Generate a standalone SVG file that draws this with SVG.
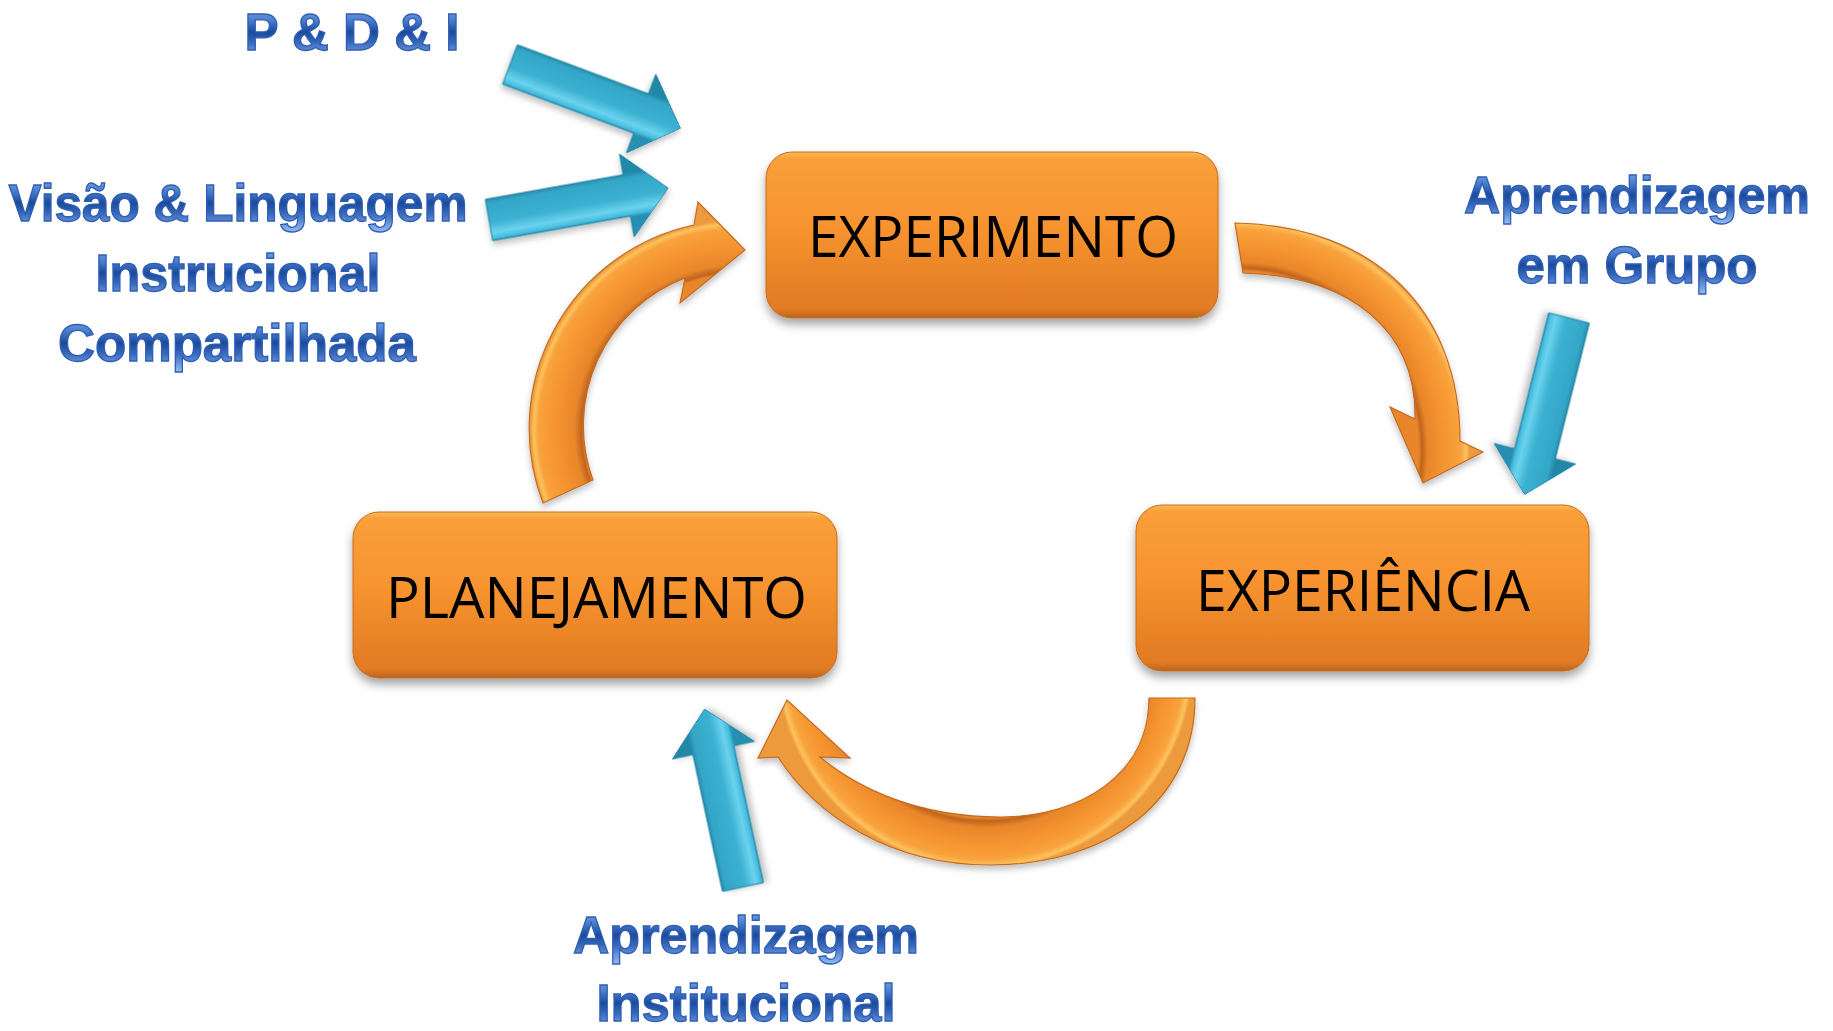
<svg xmlns="http://www.w3.org/2000/svg" width="1833" height="1031" viewBox="0 0 1833 1031">
  <defs>
    <style>
      .box { fill: url(#boxGrad); stroke: #C86A1E; stroke-width: 1; filter: url(#shadow); }
      .boxText { font-family: "Open Sans", "Liberation Sans", sans-serif; font-size: 56px; fill: #000; text-anchor: middle; }
      .lbl { font-family: "Liberation Sans", Arial, sans-serif; font-weight: bold; font-size: 52px; fill: url(#blueText); stroke: #2D5FB4; stroke-width: 1.3; text-anchor: middle; }
      .blue { fill: url(#blueGrad); stroke: #23829F; stroke-width: 1; filter: url(#shadowS); }
      .orange { stroke: #C46A20; stroke-width: 1.2; filter: url(#shadowS); }
    </style>
    <filter id="shadow" x="-10%" y="-10%" width="120%" height="135%">
      <feDropShadow dx="0" dy="6" stdDeviation="5" flood-color="#000" flood-opacity="0.35"/>
    </filter>
    <filter id="shadowS" x="-20%" y="-20%" width="140%" height="140%">
      <feDropShadow dx="0" dy="4" stdDeviation="3" flood-color="#000" flood-opacity="0.25"/>
    </filter>
    <linearGradient id="boxGrad" x1="0" y1="0" x2="0" y2="1">
      <stop offset="0" stop-color="#FCBC55"/>
      <stop offset="0.04" stop-color="#FA9F39"/>
      <stop offset="0.45" stop-color="#F7942F"/>
      <stop offset="0.95" stop-color="#E17A23"/>
      <stop offset="1" stop-color="#B8641E"/>
    </linearGradient>
    <linearGradient id="blueText" x1="0" y1="0" x2="0" y2="1">
      <stop offset="0" stop-color="#8DB3EE"/>
      <stop offset="0.3" stop-color="#4A7CCC"/>
      <stop offset="0.5" stop-color="#1B4A9C"/>
      <stop offset="0.68" stop-color="#3868BC"/>
      <stop offset="1" stop-color="#95BCF2"/>
    </linearGradient>
    <linearGradient id="blueGrad" gradientUnits="userSpaceOnUse" x1="0" y1="-22" x2="0" y2="22">
      <stop offset="0" stop-color="#2288A8"/>
      <stop offset="0.12" stop-color="#34A6C8"/>
      <stop offset="0.55" stop-color="#3BB1D2"/>
      <stop offset="0.8" stop-color="#6AD2EE"/>
      <stop offset="0.92" stop-color="#48BEDF"/>
      <stop offset="1" stop-color="#2590B2"/>
    </linearGradient>
    <radialGradient id="arc1" gradientUnits="userSpaceOnUse" cx="740" cy="430" r="212">
      <stop offset="0" stop-color="#E9852B"/>
      <stop offset="0.735" stop-color="#E9852B"/>
      <stop offset="0.748" stop-color="#BF651D"/>
      <stop offset="0.78" stop-color="#E8862B"/>
      <stop offset="0.87" stop-color="#F59430"/>
      <stop offset="0.95" stop-color="#F9A23C"/>
      <stop offset="0.972" stop-color="#FDC25E"/>
      <stop offset="0.99" stop-color="#EC9A3A"/>
      <stop offset="1" stop-color="#EC9A3A"/>
    </radialGradient>
    <radialGradient id="arc3" gradientUnits="userSpaceOnUse" cx="1240" cy="450" r="232">
      <stop offset="0" stop-color="#E9852B"/>
      <stop offset="0.77" stop-color="#E9852B"/>
      <stop offset="0.785" stop-color="#BF651D"/>
      <stop offset="0.81" stop-color="#E8862B"/>
      <stop offset="0.88" stop-color="#F59430"/>
      <stop offset="0.95" stop-color="#F9A23C"/>
      <stop offset="0.975" stop-color="#FDC25E"/>
      <stop offset="0.99" stop-color="#EC9A3A"/>
      <stop offset="1" stop-color="#EC9A3A"/>
    </radialGradient>
    <radialGradient id="arc5" gradientUnits="userSpaceOnUse" cx="985" cy="660" r="212">
      <stop offset="0" stop-color="#E9852B"/>
      <stop offset="0.745" stop-color="#E9852B"/>
      <stop offset="0.76" stop-color="#BF651D"/>
      <stop offset="0.79" stop-color="#E8862B"/>
      <stop offset="0.87" stop-color="#F59430"/>
      <stop offset="0.94" stop-color="#F9A23C"/>
      <stop offset="0.968" stop-color="#FDC25E"/>
      <stop offset="0.985" stop-color="#EC9A3A"/>
      <stop offset="1" stop-color="#EC9A3A"/>
    </radialGradient>
    <path id="straightArrow" d="M0,-21 L140,-21 L140,-42 L182,0 L140,42 L140,21 L0,21 Z"/>
  </defs>

  <rect width="1833" height="1031" fill="#FFFFFF"/>

  <g id="connectors">
    <path id="arrow-planejamento-experimento" class="orange" fill="url(#arc1)"
      d="M543,503 A208,208 0 0 1 694,225 L698,202 L745,250 L680,303 L685,278 A158,158 0 0 0 593,480 Z"/>
    <path id="arrow-experimento-experiencia" class="orange" fill="url(#arc3)"
      d="M1235,223 C1375,226 1460,310 1460,441 L1483,452 L1423,483 L1390,407 L1415,419 C1417,330 1350,276 1243,273 Z"/>
    <path id="arrow-experiencia-planejamento" class="orange" fill="url(#arc5)"
      d="M1195,698 C1195,800 1110,865 990,865 C890,865 815,815 778,757 L758,758 L787,700 L850,758 L820,757 C860,790 920,817 1000,817 C1080,817 1149,775 1149,698 Z"/>
    <use id="arrow-pdi" href="#straightArrow" class="blue" transform="translate(510,64.5) rotate(20.5)"/>
    <use id="arrow-visao" href="#straightArrow" class="blue" transform="translate(489,220) rotate(-10.1)"/>
    <use id="arrow-grupo" href="#straightArrow" class="blue" transform="translate(1569,318) rotate(104.1)"/>
    <use id="arrow-institucional" href="#straightArrow" class="blue" transform="translate(743,887) rotate(-102.2)"/>
  </g>

  <g id="node-experimento">
    <rect class="box" x="766" y="152" width="452" height="166" rx="26" ry="26"/>
    <text class="boxText" x="993" y="257" textLength="370" lengthAdjust="spacingAndGlyphs">EXPERIMENTO</text>
  </g>
  <g id="node-planejamento">
    <rect class="box" x="353" y="512" width="484" height="166" rx="26" ry="26"/>
    <text class="boxText" x="596.5" y="618" textLength="421" lengthAdjust="spacingAndGlyphs">PLANEJAMENTO</text>
  </g>
  <g id="node-experiencia">
    <rect class="box" x="1136" y="505" width="453" height="166" rx="26" ry="26"/>
    <text class="boxText" x="1363" y="611" textLength="334" lengthAdjust="spacingAndGlyphs">EXPERIÊNCIA</text>
  </g>

  <g id="label-pdi">
    <text class="lbl" x="352" y="50" textLength="215" lengthAdjust="spacingAndGlyphs">P &amp; D &amp; I</text>
  </g>
  <g id="label-visao">
    <text class="lbl" x="238" y="221" textLength="459" lengthAdjust="spacingAndGlyphs">Visão &amp; Linguagem</text>
    <text class="lbl" x="238" y="291" textLength="285" lengthAdjust="spacingAndGlyphs">Instrucional</text>
    <text class="lbl" x="237" y="361" textLength="358" lengthAdjust="spacingAndGlyphs">Compartilhada</text>
  </g>
  <g id="label-grupo">
    <text class="lbl" x="1637" y="213" textLength="346" lengthAdjust="spacingAndGlyphs">Aprendizagem</text>
    <text class="lbl" x="1637" y="283" textLength="241" lengthAdjust="spacingAndGlyphs">em Grupo</text>
  </g>
  <g id="label-institucional">
    <text class="lbl" x="746" y="953" textLength="346" lengthAdjust="spacingAndGlyphs">Aprendizagem</text>
    <text class="lbl" x="746" y="1021" textLength="299" lengthAdjust="spacingAndGlyphs">Institucional</text>
  </g>
</svg>
